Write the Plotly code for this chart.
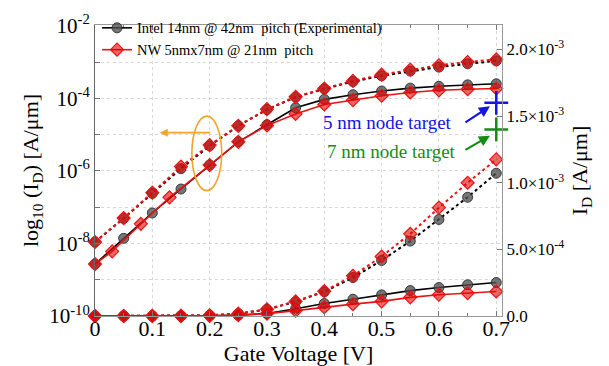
import plotly.graph_objects as go

# Gate voltage sweep (V)
vg = [0.00, 0.05, 0.10, 0.15, 0.20, 0.25, 0.30, 0.35,
      0.40, 0.45, 0.50, 0.55, 0.60, 0.65, 0.70]
# NW low-drain sweep points used in the log-scale panel
vg_nw_lin = [0.00, 0.03, 0.08, 0.13, 0.20, 0.25, 0.30, 0.35,
             0.40, 0.45, 0.50, 0.55, 0.60, 0.65, 0.70]

# log10 of drain current (A/um)
intel_lin_log10 = [-8.57, -7.86, -7.16, -6.50, -5.84, -5.20, -4.73, -4.26,
                   -4.03, -3.90, -3.80, -3.72, -3.67, -3.63, -3.60]
intel_sat_log10 = [-7.96, -7.31, -6.62, -5.94, -5.31, -4.76, -4.31, -3.97,
                   -3.74, -3.54, -3.38, -3.25, -3.14, -3.05, -2.97]
nw_lin_log10 = [-8.57, -8.22, -7.46, -6.73, -5.84, -5.20, -4.75, -4.43,
                -4.17, -4.05, -3.93, -3.84, -3.78, -3.75, -3.73]
nw_sat_log10 = [-7.96, -7.30, -6.60, -5.88, -5.29, -4.76, -4.30, -3.96,
                -3.73, -3.52, -3.35, -3.21, -3.09, -3.00, -2.93]

# NW low-drain current on the linear scale (A/um), sampled on vg
nw_lin_linear = [0.0, 1.0e-8, 6.0e-8, 3.0e-7, 1.4e-6, 6.0e-6, 1.8e-5, 4.0e-5,
                 6.6e-5, 8.9e-5, 1.10e-4, 1.40e-4, 1.60e-4, 1.72e-4, 1.84e-4]

# Node targets (A/um) at the top gate voltage
target_vg = [0.70]
target_5nm = [1.6e-3]
target_7nm = [1.4e-3]

x_tickvals = [0.0, 0.1, 0.2, 0.3, 0.4, 0.5, 0.6, 0.7]
x_ticktext = ["0", "0.1", "0.2", "0.3", "0.4", "0.5", "0.6", "0.7"]
left_tickvals = [1e-10, 1e-9, 1e-8, 1e-7, 1e-6, 1e-5, 1e-4, 1e-3, 1e-2]
left_ticktext = ["10<sup>-10</sup>", "", "10<sup>-8</sup>", "", "10<sup>-6</sup>",
                 "", "10<sup>-4</sup>", "", "10<sup>-2</sup>"]
right_tickvals = [0.0, 5e-4, 1e-3, 1.5e-3, 2e-3]
right_ticktext = ["0.0", "5.0×10<sup>-4</sup>", "1.0×10<sup>-3</sup>",
                  "1.5×10<sup>-3</sup>", "2.0×10<sup>-3</sup>"]

SERIF = "Liberation Serif"
intel_marker = dict(symbol="circle", size=10, color="rgba(80,80,80,0.78)",
                    line=dict(color="rgba(45,45,45,0.9)", width=1))
nw_marker = dict(symbol="diamond", size=10, color="rgba(225,0,0,0.6)",
                 line=dict(color="rgb(235,20,20)", width=1.2))

def pow10(vals):
    return [10 ** v for v in vals]

fig = go.Figure()

# Log-scale panel (left axis)
fig.add_trace(go.Scatter(x=vg, y=pow10(intel_sat_log10), mode="lines+markers",
                         line=dict(color="black", width=2, dash="dot"),
                         marker=intel_marker, showlegend=False, cliponaxis=False))
fig.add_trace(go.Scatter(x=vg, y=pow10(intel_lin_log10), mode="lines+markers",
                         line=dict(color="black", width=1.6),
                         marker=intel_marker, cliponaxis=False,
                         name="Intel 14nm @ 42nm\u00a0 pitch (Experimental)"))
fig.add_trace(go.Scatter(x=vg, y=pow10(nw_sat_log10), mode="lines+markers",
                         line=dict(color="rgb(230,20,20)", width=2, dash="dot"),
                         marker=nw_marker, showlegend=False, cliponaxis=False))
fig.add_trace(go.Scatter(x=vg_nw_lin, y=pow10(nw_lin_log10), mode="lines+markers",
                         line=dict(color="rgb(230,20,20)", width=1.6),
                         marker=nw_marker, cliponaxis=False,
                         name="NW 5nmx7nm @ 21nm\u00a0 pitch"))

# Linear-scale panel (right axis)
fig.add_trace(go.Scatter(x=vg, y=pow10(intel_sat_log10), yaxis="y2", mode="lines+markers",
                         line=dict(color="black", width=2, dash="dot"),
                         marker=intel_marker, showlegend=False, cliponaxis=False))
fig.add_trace(go.Scatter(x=vg, y=pow10(intel_lin_log10), yaxis="y2", mode="lines+markers",
                         line=dict(color="black", width=1.6),
                         marker=intel_marker, showlegend=False, cliponaxis=False))
fig.add_trace(go.Scatter(x=vg, y=pow10(nw_sat_log10), yaxis="y2", mode="lines+markers",
                         line=dict(color="rgb(230,20,20)", width=2, dash="dot"),
                         marker=nw_marker, showlegend=False, cliponaxis=False))
fig.add_trace(go.Scatter(x=vg, y=nw_lin_linear, yaxis="y2", mode="lines+markers",
                         line=dict(color="rgb(230,20,20)", width=1.6),
                         marker=nw_marker, showlegend=False, cliponaxis=False))

# Node target crosses
fig.add_trace(go.Scatter(x=target_vg, y=target_5nm, yaxis="y2", mode="markers",
                         marker=dict(symbol="cross-thin", size=17,
                                     line=dict(color="rgb(20,20,230)", width=2.5)),
                         showlegend=False, cliponaxis=False))
fig.add_trace(go.Scatter(x=target_vg, y=target_7nm, yaxis="y2", mode="markers",
                         marker=dict(symbol="cross-thin", size=17,
                                     line=dict(color="rgb(20,140,20)", width=2.5)),
                         showlegend=False, cliponaxis=False))

# Target labels and arrows
fig.add_annotation(x=0.51, y=1.456e-3, xref="x", yref="y2", text="5 nm node target",
                   showarrow=False, font=dict(family=SERIF, size=19, color="rgb(20,20,230)"))
fig.add_annotation(x=0.518, y=1.235e-3, xref="x", yref="y2", text="7 nm node target",
                   showarrow=False, font=dict(family=SERIF, size=19, color="rgb(20,140,20)"))
fig.add_annotation(x=0.689, y=1.574e-3, xref="x", yref="y2", text="", showarrow=True,
                   ax=-26, ay=17, arrowhead=2, arrowsize=1, arrowwidth=2.2,
                   arrowcolor="rgb(20,20,230)")
fig.add_annotation(x=0.689, y=1.353e-3, xref="x", yref="y2", text="", showarrow=True,
                   ax=-26, ay=15, arrowhead=2, arrowsize=1, arrowwidth=2.2,
                   arrowcolor="rgb(20,140,20)")

# Ellipse and arrow pointing the highlighted curves to the log axis
fig.add_shape(type="circle", xref="x", yref="y domain", x0=0.169, x1=0.221,
              y0=0.431, y1=0.687, line=dict(color="rgb(240,165,40)", width=1.6))
fig.add_annotation(x=0.113, y=0.63, xref="x", yref="y domain", text="", showarrow=True,
                   ax=52, ay=0, arrowhead=2, arrowsize=1, arrowwidth=1.6,
                   arrowcolor="rgb(240,165,40)")

grid = "rgb(215,215,215)"
fig.update_layout(
    width=609, height=366,
    margin=dict(l=95, r=107, t=19, b=50),
    paper_bgcolor="white", plot_bgcolor="white",
    font=dict(family=SERIF, color="black"),
    xaxis=dict(range=[0, 0.71], tickvals=x_tickvals, ticktext=x_ticktext,
               ticks="inside", ticklen=5, tickcolor="#777", automargin=False,
               ticklabelstandoff=-7,
               showline=True, linecolor="#999", mirror="ticks",
               showgrid=True, gridcolor=grid, griddash="dot", zeroline=False,
               tickfont=dict(family=SERIF, size=22),
               minor=dict(dtick=0.05, ticks="inside", ticklen=3, tickcolor="#777"),
               title=dict(text="Gate Voltage [V]", font=dict(family=SERIF, size=22),
                          standoff=2)),
    yaxis=dict(type="log", range=[-10, -1.98], tickvals=left_tickvals,
               ticktext=left_ticktext, ticks="inside", ticklen=5, tickcolor="#777",
               showline=True, linecolor="#666", automargin=False,
               showgrid=True, gridcolor=grid, griddash="dot", zeroline=False,
               tickfont=dict(family=SERIF, size=21),
               title=dict(text="log<sub>10</sub> (I<sub>D</sub>) [A/μm]",
                          font=dict(family=SERIF, size=22), standoff=4)),
    yaxis2=dict(overlaying="y", side="right", range=[0, 2.184e-3],
                tickvals=right_tickvals, ticktext=right_ticktext, automargin=False,
                ticks="inside", ticklen=5, tickcolor="#777",
                showline=True, linecolor="#999", showgrid=False, zeroline=False,
                tickfont=dict(family=SERIF, size=17),
                title=dict(text="I<sub>D</sub> [A/μm]", font=dict(family=SERIF, size=22),
                           standoff=8)),
    legend=dict(x=0.005, y=1.045, xanchor="left", yanchor="top",
                bgcolor="rgba(255,255,255,0)", font=dict(family=SERIF, size=14.5),
                tracegroupgap=0, itemwidth=30),
)

fig.write_html("out.html")
